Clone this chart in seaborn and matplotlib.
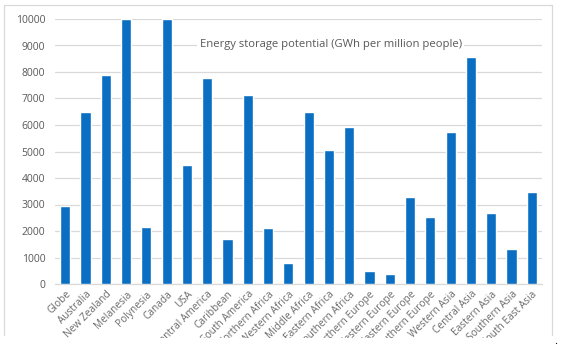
import matplotlib
matplotlib.use("Agg")
import matplotlib.pyplot as plt
import seaborn as sns
import pandas as pd
from matplotlib.transforms import Bbox, TransformedBbox
from matplotlib.lines import Line2D

regions = ["Globe", "Australia", "New Zealand", "Melanesia", "Polynesia", "Canada", "USA",
           "Central America", "Caribbean", "South America", "Northern Africa", "Western Africa",
           "Middle Africa", "Eastern Africa", "Southern Africa", "Northern Europe", "Western Europe",
           "Eastern Europe", "Southern Europe", "Western Asia", "Central Asia", "Eastern Asia",
           "Southern Asia", "South East Asia"]
values = [2940, 6500, 7890, 10000, 2150, 10000, 4490, 7790, 1700, 7130, 2100, 780,
          6480, 5060, 5920, 480, 390, 3270, 2530, 5720, 8580, 2680, 1320, 3480]
yticks = [0, 1000, 2000, 3000, 4000, 5000, 6000, 7000, 8000, 9000, 10000]
title = "Energy storage potential (GWh per million people)"

df = pd.DataFrame({"region": regions, "value": values})

sns.set_theme(style="white")
plt.rcParams["font.family"] = ["Open Sans", "DejaVu Sans"]

fig = plt.figure(figsize=(5.61, 3.53), dpi=100)
W, H = 561, 353
ax = fig.add_axes([55 / W, 1 - 284 / H, (542 - 55) / W, (284 - 19) / H])

sns.barplot(data=df, x="region", y="value", color="#0a6fc2", saturation=1,
            width=0.5, ax=ax, zorder=3)

ax.set_ylim(0, 10000)
ax.set_xlim(-0.5, len(regions) - 0.5)
ax.set_yticks(yticks)
ax.set_yticklabels([str(v) for v in yticks], fontsize=7.5, color="#595959")
ax.yaxis.grid(True, color="#d9d9d9", linewidth=0.9, zorder=0)
ax.set_axisbelow(True)
for s in ["top", "right", "left"]:
    ax.spines[s].set_visible(False)
ax.spines["bottom"].set_color("#d9d9d9")
ax.spines["bottom"].set_linewidth(0.9)
ax.tick_params(axis="y", length=0, pad=7)
ax.tick_params(axis="x", length=0, pad=3.5)
ax.set_xlabel("")
ax.set_ylabel("")

clipbox = TransformedBbox(Bbox([[5 / W, 1 - 338 / H], [552 / W, 1]]), fig.transFigure)
ax.set_xticks(range(len(regions)))
labels = ax.set_xticklabels(regions, rotation=45, ha="right", rotation_mode="anchor",
                            fontsize=7.3, color="#6a6a6a")
for lb in labels:
    lb.set_clip_on(True)
    lb.set_clip_box(clipbox)

ax.text(0.566, 1 - (45 - 19) / (284 - 19), title, transform=ax.transAxes,
        ha="center", va="center", fontsize=8.1, color="#595959",
        bbox=dict(facecolor="white", edgecolor="none", pad=1.5), zorder=5)

# chart border
bc = "#d9d9d9"
fig.add_artist(Line2D([4 / W, 4 / W], [1 - 5 / H, 1 - 335 / H], color=bc, lw=0.9, transform=fig.transFigure))
fig.add_artist(Line2D([4 / W, 552 / W], [1 - 5 / H, 1 - 5 / H], color=bc, lw=0.9, transform=fig.transFigure))
fig.add_artist(Line2D([552 / W, 552 / W], [1 - 5 / H, 1 - 335 / H], color=bc, lw=0.9, transform=fig.transFigure))
fig.text(556 / W, 1 - 342 / H, ".", fontsize=8, color="black", ha="center", va="center")

fig.savefig("out.png", dpi=100)
